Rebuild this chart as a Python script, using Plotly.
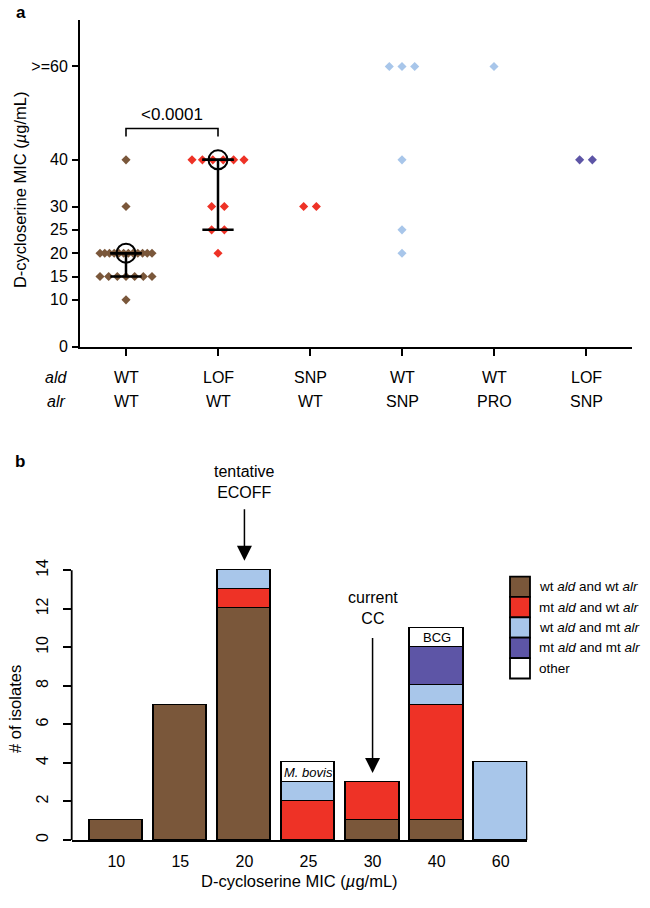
import numpy as np
import plotly.graph_objects as go

# ---------------- Panel a data ----------------
ald_labels = ["WT", "LOF", "SNP", "WT", "WT", "LOF"]
alr_labels = ["WT", "WT", "WT", "SNP", "PRO", "SNP"]
wt_wt_mic = [10, 15, 15, 15, 15, 15, 15, 15,
             20, 20, 20, 20, 20, 20, 20, 20, 20, 20, 20, 20, 30, 40]
lof_wt_mic = [20, 25, 25, 30, 30, 40, 40, 40, 40, 40, 40]
snp_wt_mic = [30, 30]
wt_snp_mic = [20, 25, 40, 60, 60, 60]
wt_pro_mic = [60]
lof_snp_mic = [40, 40]
group_values = [wt_wt_mic, lof_wt_mic, snp_wt_mic, wt_snp_mic, wt_pro_mic, lof_snp_mic]
y_tickvals = [0, 10, 15, 20, 25, 30, 40, 60]
y_ticktext = ["0", "10", "15", "20", "25", "30", "40", ">=60"]
p_value_text = "<0.0001"

# ---------------- Panel b data ----------------
mic_labels = ["10", "15", "20", "25", "30", "40", "60"]
wt_ald_wt_alr = [1, 7, 12, 0, 1, 1, 0]
mt_ald_wt_alr = [0, 0, 1, 2, 2, 6, 0]
wt_ald_mt_alr = [0, 0, 1, 1, 0, 1, 4]
mt_ald_mt_alr = [0, 0, 0, 0, 0, 2, 0]
other = [0, 0, 0, 1, 0, 1, 0]
other_labels = ["", "", "", "<i>M. bovis</i>", "", "BCG", ""]
legend_labels = ["wt <i>ald</i> and wt <i>alr</i>", "mt <i>ald</i> and wt <i>alr</i>",
                 "wt <i>ald</i> and mt <i>alr</i>", "mt <i>ald</i> and mt <i>alr</i>", "other"]

# ---------------- styles ----------------
BROWN = "#7a573a"
RED = "#ee3226"
LBLUE = "#a8c6ea"
PURPLE = "#5d55a6"
WHITE = "#ffffff"
group_colors = [BROWN, RED, RED, LBLUE, LBLUE, PURPLE]
series_colors = [BROWN, RED, LBLUE, PURPLE, WHITE]
FONT = "Liberation Sans, Arial, Helvetica, sans-serif"
W, H = 650, 908
TICK_FS = 16
LABEL_FS = 16
TITLE_FS = 16.5


def px(x):
    return x / W


def py(y):
    return 1 - y / H


fig = go.Figure()

# ---------------- Panel a ----------------
PX_PER_CAT = 92.0


def swarm(idx, values, max_px=52.0, step_px=12.7):
    xs, ys = [], []
    for v in sorted(set(values)):
        n = values.count(v)
        step = step_px if n < 2 else min(step_px, max_px / (n - 1))
        for i in range(n):
            xs.append(idx + (i - (n - 1) / 2) * step / PX_PER_CAT)
            ys.append(v)
    return xs, ys


for gi, vals in enumerate(group_values):
    xs, ys = swarm(gi, vals)
    fig.add_trace(go.Scatter(x=xs, y=ys, mode="markers", xaxis="x", yaxis="y",
                             marker=dict(symbol="diamond", size=7, color=group_colors[gi],
                                         line=dict(width=0)),
                             showlegend=False, hoverinfo="y", cliponaxis=False))

CAP = 0.17
for gi in [0, 1]:
    q1, med, q3 = np.percentile(group_values[gi], [25, 50, 75], method="weibull")
    lx = [gi - CAP, gi + CAP, None, gi - CAP, gi + CAP, None, gi - CAP, gi + CAP, None, gi, gi]
    ly = [med, med, None, q1, q1, None, q3, q3, None, q1, q3]
    fig.add_trace(go.Scatter(x=lx, y=ly, mode="lines", xaxis="x", yaxis="y",
                             line=dict(color="black", width=2.5), showlegend=False,
                             hoverinfo="skip", cliponaxis=False))
    fig.add_trace(go.Scatter(x=[gi], y=[med], mode="markers", xaxis="x", yaxis="y",
                             marker=dict(symbol="circle-open", size=19, color="black",
                                         line=dict(color="black", width=2)),
                             showlegend=False, hoverinfo="skip", cliponaxis=False))

# significance bracket
fig.add_trace(go.Scatter(x=[0, 0, 1, 1], y=[45.0, 46.7, 46.7, 45.0], mode="lines",
                         xaxis="x", yaxis="y", line=dict(color="black", width=1.6),
                         showlegend=False, hoverinfo="skip"))

# ---------------- Panel b ----------------
bar_idx = list(range(len(mic_labels)))
series = [wt_ald_wt_alr, mt_ald_wt_alr, wt_ald_mt_alr, mt_ald_mt_alr, other]
for si, vals in enumerate(series):
    fig.add_trace(go.Bar(x=bar_idx, y=[v if v else None for v in vals],
                         xaxis="x2", yaxis="y2", width=0.833,
                         marker=dict(color=series_colors[si], line=dict(color="black", width=1.8)),
                         showlegend=False, cliponaxis=False))


def ann(**kw):
    kw.setdefault("showarrow", False)
    kw.setdefault("xanchor", "center")
    kw.setdefault("yanchor", "middle")
    return kw


annotations = []
# other labels
for i, lab in enumerate(other_labels):
    if lab:
        base = wt_ald_wt_alr[i] + mt_ald_wt_alr[i] + wt_ald_mt_alr[i] + mt_ald_mt_alr[i]
        annotations.append(ann(x=i, y=base + other[i] / 2, xref="x2", yref="y2", text=lab,
                               font=dict(size=13, color="black")))

# arrows
annotations.append(dict(x=2, y=14.5, ax=2, ay=17.25, xref="x2", yref="y2", axref="x2",
                        ayref="y2", showarrow=True, arrowhead=2, arrowsize=2, arrowwidth=1.5,
                        arrowcolor="black", text=""))
annotations.append(ann(x=2, y=18.6, xref="x2", yref="y2", text="tentative<br>ECOFF",
                       font=dict(size=LABEL_FS, color="black")))
annotations.append(dict(x=4, y=3.48, ax=4, ay=10.56, xref="x2", yref="y2", axref="x2",
                        ayref="y2", showarrow=True, arrowhead=2, arrowsize=2, arrowwidth=1.5,
                        arrowcolor="black", text=""))
annotations.append(ann(x=4, y=12.05, xref="x2", yref="y2", text="current<br>CC",
                       font=dict(size=LABEL_FS, color="black")))

# panel a labels
annotations.append(ann(x=0.5, y=49.7, xref="x", yref="y", text=p_value_text,
                       font=dict(size=17, color="black")))
for gi in range(len(ald_labels)):
    annotations.append(ann(x=gi, y=py(381), xref="x", yref="paper", text=ald_labels[gi],
                           font=dict(size=LABEL_FS, color="black")))
    annotations.append(ann(x=gi, y=py(406), xref="x", yref="paper", text=alr_labels[gi],
                           font=dict(size=LABEL_FS, color="black")))
annotations.append(ann(x=px(56), y=py(381), xref="paper", yref="paper", text="<i>ald</i>",
                       font=dict(size=LABEL_FS, color="black")))
annotations.append(ann(x=px(56), y=py(406), xref="paper", yref="paper", text="<i>alr</i>",
                       font=dict(size=LABEL_FS, color="black")))
annotations.append(ann(x=px(20), y=py(192), xref="paper", yref="paper", textangle=-90,
                       text="D-cycloserine MIC (<i>µ</i>g/mL)",
                       font=dict(size=TITLE_FS, color="black")))
annotations.append(ann(x=px(21), y=py(13), xref="paper", yref="paper", text="<b>a</b>",
                       font=dict(size=17, color="black")))
annotations.append(ann(x=px(20), y=py(466), xref="paper", yref="paper", text="<b>b</b>",
                       font=dict(size=17, color="black")))
# panel b axis titles
annotations.append(ann(x=px(299), y=py(890), xref="paper", yref="paper",
                       text="D-cycloserine MIC (<i>µ</i>g/mL)",
                       font=dict(size=TITLE_FS, color="black")))
annotations.append(ann(x=px(15), y=py(716), xref="paper", yref="paper", textangle=-90,
                       text="# of isolates", font=dict(size=TITLE_FS, color="black")))

# legend (manual)
shapes = []
box_top, box_h = 582.3, 20.6
for li, lab in enumerate(legend_labels):
    y0 = box_top + li * box_h
    shapes.append(dict(type="rect", xref="paper", yref="paper", x0=px(510), x1=px(530),
                       y0=py(y0), y1=py(y0 + box_h), fillcolor=series_colors[li],
                       line=dict(color="black", width=1.8)))
    annotations.append(ann(x=px(537), y=py(y0 + box_h / 2), xref="paper", yref="paper",
                           text=lab, xanchor="left", font=dict(size=13.5, color="black")))

# y axis line of panel b (only from 0 to 14, as in the original)
shapes.append(dict(type="line", xref="x2 domain", yref="y2", x0=0, x1=0, y0=0, y1=14,
                   line=dict(color="black", width=1.8)))

Y2_PX_PER_UNIT = (848.3 - 576.0) / 14
Y2_TOP = 19.5
fig.update_layout(
    width=W, height=H, margin=dict(l=0, r=0, t=0, b=0),
    paper_bgcolor="white", plot_bgcolor="white",
    font=dict(family=FONT, color="black"),
    barmode="stack", bargap=0,
    xaxis=dict(domain=[px(80), px(632)], range=[-0.5, 5.5], anchor="y",
               showline=True, linecolor="black", linewidth=2,
               tickvals=list(range(6)), ticktext=[""] * 6, ticks="outside",
               ticklen=7, tickwidth=2, tickcolor="black", showgrid=False, zeroline=False),
    yaxis=dict(domain=[py(350), py(20)], range=[0, 70], anchor="x",
               showline=True, linecolor="black", linewidth=2,
               tickvals=y_tickvals, ticktext=y_ticktext, ticks="outside", ticklen=6,
               tickwidth=1.5, tickcolor="black", tickfont=dict(size=TICK_FS),
               ticklabelstandoff=1, showgrid=False, zeroline=False),
    xaxis2=dict(domain=[px(71.7), px(527.3)], range=[-0.696, 6.415], anchor="y2",
                showline=True, linecolor="black", linewidth=1.8,
                tickvals=bar_idx, ticktext=mic_labels, ticks="", tickfont=dict(size=TICK_FS),
                ticklabelstandoff=6, showgrid=False, zeroline=False),
    yaxis2=dict(domain=[py(848.3), py(848.3 - Y2_TOP * Y2_PX_PER_UNIT)], range=[0, Y2_TOP],
                anchor="x2", showline=False,
                tickvals=list(range(0, 15, 2)), ticks="outside", ticklen=8, tickwidth=1.5,
                tickcolor="black", tickangle=-90, tickfont=dict(size=TICK_FS),
                ticklabelstandoff=8, showgrid=False, zeroline=False),
    annotations=annotations, shapes=shapes,
)

fig.write_html("out.html", config={"displayModeBar": False},
               post_script="document.body.style.margin='0px';")
